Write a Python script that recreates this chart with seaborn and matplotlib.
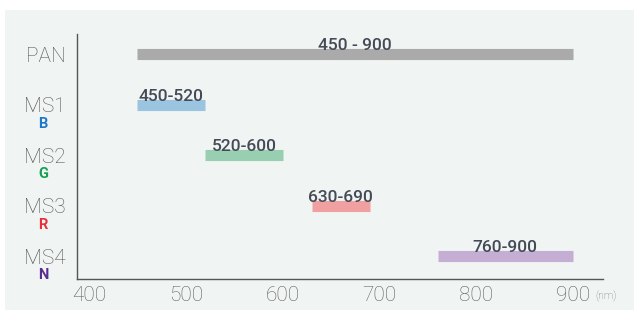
import matplotlib
matplotlib.use("Agg")
import matplotlib.pyplot as plt
import seaborn as sns
import pandas as pd
from matplotlib.patches import Rectangle

# ---- data ----
bands = ["PAN", "MS1", "MS2", "MS3", "MS4"]
band_letters = ["", "B", "G", "R", "N"]
starts = [450, 450, 520, 630, 760]
ends = [900, 520, 600, 690, 900]
range_labels = ["450 - 900", "450-520", "520-600", "630-690", "760-900"]
x_ticks = [400, 500, 600, 700, 800, 900]
x_unit = "(nm)"

bar_colors = ["#a9aaa9", "#9bc4e0", "#98cfb0", "#f0a0a0", "#c4aed4"]
letter_colors = ["#000000", "#1f78c8", "#16a050", "#e8303a", "#5b2d92"]

sns.set_theme(style="white")
plt.rcParams["font.family"] = ["Roboto", "DejaVu Sans"]

rows = []
for i, (b, s, e) in enumerate(zip(bands, starts, ends)):
    rows.append({"band": b, "row": i, "nm": s})
    rows.append({"band": b, "row": i, "nm": e})
df = pd.DataFrame(rows)

fig = plt.figure(figsize=(6.34, 3.11), dpi=100)
fig.patch.set_facecolor("white")
fig.patches.append(Rectangle((5 / 634, 1 / 311), 629 / 634, 300 / 311,
                             transform=fig.transFigure, facecolor="#f0f4f3",
                             edgecolor="none", zorder=-10))
ax = fig.add_axes([77 / 634, 32 / 311, 526 / 634, 245 / 311])
ax.set_facecolor("none")
ax.set_zorder(5)

sns.lineplot(data=df, x="nm", y="row", hue="band", units="band",
             estimator=None, sort=False, palette=dict(zip(bands, bar_colors)),
             linewidth=8, solid_capstyle="butt", legend=False, ax=ax)

ax.set_xlim(387.5, 931)
ax.set_ylim(4.455, -0.396)

# range labels above bars
for i, (s, e, lab) in enumerate(zip(starts, ends, range_labels)):
    ax.annotate(lab, xy=((s + e) / 2, i), xytext=(0, 2.6), textcoords="offset points",
                ha="center", va="baseline", fontsize=12.5, color="#454b56",
                fontweight="medium")

ax.set_yticks(range(len(bands)))
ax.set_yticklabels(bands)
ax.set_xticks(x_ticks)
ax.set_xticklabels([str(t) for t in x_ticks])
ax.tick_params(axis="y", length=0, pad=8, labelsize=15, labelcolor="#555555")
ax.tick_params(axis="x", length=0, pad=5, labelsize=15, labelcolor="#606060")
for lab in ax.get_yticklabels() + ax.get_xticklabels():
    lab.set_fontweight("light")
ax.set_xlabel("")
ax.set_ylabel("")

# colored sub-letters
for i, (letter, col) in enumerate(zip(band_letters, letter_colors)):
    if letter:
        ax.annotate(letter, xy=(0, i), xycoords=("axes fraction", "data"),
                    xytext=(-24.5, -13.7), textcoords="offset points",
                    ha="center", va="center", fontsize=10.5, fontweight="bold",
                    color=col)

ax.text(0.985, -0.072, x_unit, transform=ax.transAxes, ha="left", va="center",
        fontsize=7.5, color="#777777", fontweight="light")

for side in ["top", "right"]:
    ax.spines[side].set_visible(False)
for side in ["left", "bottom"]:
    ax.spines[side].set_color("#555555")
    ax.spines[side].set_linewidth(1)

fig.savefig("out.png", dpi=100)
